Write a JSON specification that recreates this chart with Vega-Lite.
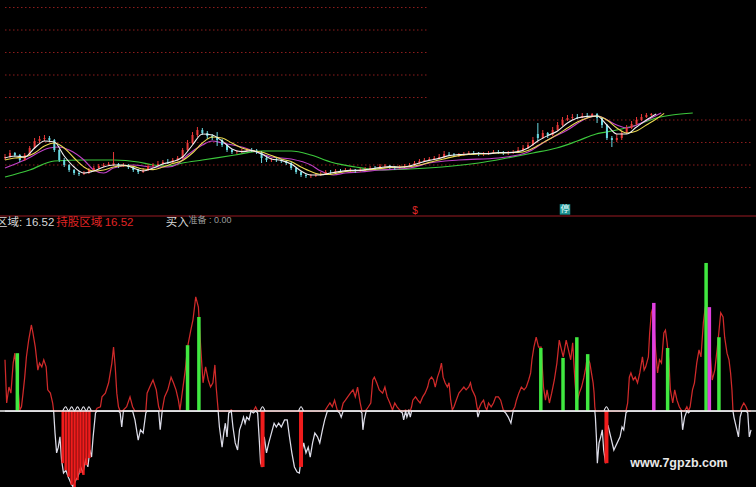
{
  "$schema": "https://vega.github.io/schema/vega-lite/v6.json",
  "width": 756,
  "height": 487,
  "padding": 0,
  "autosize": {"type": "none"},
  "background": "#000000",
  "config": {"view": {"stroke": null}, "axis": {"disable": true}, "legend": {"disable": true}},
  "datasets": {
    "gridTop": [
      {"lv": 19.625, "x0": 0, "x1": 428}, {"lv": 18.5, "x0": 0, "x1": 428}, {"lv": 17.375, "x0": 0, "x1": 428},
      {"lv": 16.25, "x0": 0, "x1": 428}, {"lv": 15.125, "x0": 0, "x1": 428}, {"lv": 14.0, "x0": 0, "x1": 756},
      {"lv": 12.875, "x0": 0, "x1": 756}, {"lv": 11.75, "x0": 0, "x1": 756}, {"lv": 10.625, "x0": 0, "x1": 756}
    ],
    "gridBottom": [{"lv": 3}, {"lv": 2}, {"lv": 1}, {"lv": -1}],
    "candles": [
      {"t":0,"o":12.10,"c":12.15,"h":12.30,"l":12.00},{"t":5,"o":12.15,"c":12.35,"h":12.50,"l":12.10},
      {"t":10,"o":12.35,"c":12.25,"h":12.40,"l":12.15},{"t":15,"o":12.25,"c":12.00,"h":12.30,"l":11.90},
      {"t":20,"o":12.00,"c":12.25,"h":12.35,"l":11.95},{"t":25,"o":12.25,"c":12.60,"h":12.70,"l":12.20},
      {"t":30,"o":12.60,"c":12.95,"h":13.10,"l":12.55},{"t":35,"o":12.95,"c":13.05,"h":13.20,"l":12.85},
      {"t":40,"o":13.05,"c":13.10,"h":13.25,"l":12.95},{"t":45,"o":13.10,"c":13.00,"h":13.20,"l":12.90},
      {"t":50,"o":13.00,"c":12.50,"h":13.05,"l":12.40},{"t":55,"o":12.50,"c":12.00,"h":12.55,"l":11.90},
      {"t":60,"o":12.00,"c":11.75,"h":12.10,"l":11.65},{"t":65,"o":11.75,"c":11.50,"h":11.80,"l":11.40},
      {"t":70,"o":11.50,"c":11.35,"h":11.55,"l":11.25},{"t":75,"o":11.35,"c":11.30,"h":11.45,"l":11.20},
      {"t":80,"o":11.30,"c":11.35,"h":11.45,"l":11.25},{"t":85,"o":11.35,"c":11.50,"h":11.60,"l":11.30},
      {"t":90,"o":11.50,"c":11.60,"h":11.70,"l":11.45},{"t":95,"o":11.60,"c":11.70,"h":11.80,"l":11.55},
      {"t":100,"o":11.70,"c":11.75,"h":11.85,"l":11.65},{"t":105,"o":11.75,"c":11.80,"h":11.90,"l":11.70},
      {"t":110,"o":11.75,"c":11.85,"h":12.40,"l":11.70},{"t":115,"o":11.80,"c":11.70,"h":11.85,"l":11.60},
      {"t":120,"o":11.70,"c":11.75,"h":11.85,"l":11.65},{"t":125,"o":11.75,"c":11.65,"h":11.80,"l":11.55},
      {"t":130,"o":11.65,"c":11.50,"h":11.70,"l":11.40},{"t":135,"o":11.50,"c":11.40,"h":11.55,"l":11.30},
      {"t":140,"o":11.40,"c":11.50,"h":11.60,"l":11.35},{"t":145,"o":11.50,"c":11.70,"h":11.80,"l":11.45},
      {"t":150,"o":11.70,"c":11.75,"h":11.85,"l":11.65},{"t":155,"o":11.75,"c":11.80,"h":11.95,"l":11.70},
      {"t":160,"o":11.80,"c":11.90,"h":12.00,"l":11.75},{"t":165,"o":11.90,"c":11.88,"h":12.05,"l":11.80},
      {"t":170,"o":11.88,"c":12.00,"h":12.10,"l":11.85},{"t":175,"o":12.00,"c":12.10,"h":12.20,"l":11.95},
      {"t":180,"o":12.10,"c":12.50,"h":12.60,"l":12.05},{"t":185,"o":12.50,"c":12.85,"h":13.00,"l":12.45},
      {"t":190,"o":12.85,"c":13.25,"h":13.40,"l":12.80},{"t":195,"o":13.25,"c":13.50,"h":13.65,"l":13.15},
      {"t":200,"o":13.50,"c":13.35,"h":13.60,"l":13.25},{"t":205,"o":13.35,"c":13.20,"h":13.45,"l":13.05},
      {"t":210,"o":13.20,"c":13.10,"h":13.30,"l":13.00},{"t":215,"o":13.10,"c":13.00,"h":13.40,"l":12.70},
      {"t":220,"o":13.00,"c":12.75,"h":13.05,"l":12.65},{"t":225,"o":12.75,"c":12.50,"h":12.80,"l":12.40},
      {"t":230,"o":12.50,"c":12.40,"h":12.55,"l":12.30},{"t":235,"o":12.40,"c":12.42,"h":12.50,"l":12.30},
      {"t":240,"o":12.42,"c":12.45,"h":12.55,"l":12.35},{"t":245,"o":12.45,"c":12.50,"h":12.60,"l":12.40},
      {"t":250,"o":12.50,"c":12.48,"h":12.60,"l":12.40},{"t":255,"o":12.48,"c":12.40,"h":12.55,"l":12.30},
      {"t":260,"o":12.40,"c":12.10,"h":12.45,"l":11.85},{"t":265,"o":12.10,"c":12.00,"h":12.15,"l":11.90},
      {"t":270,"o":12.00,"c":12.02,"h":12.10,"l":11.90},{"t":275,"o":12.02,"c":12.00,"h":12.10,"l":11.90},
      {"t":280,"o":12.00,"c":11.95,"h":12.05,"l":11.85},{"t":285,"o":11.95,"c":11.85,"h":12.00,"l":11.75},
      {"t":290,"o":11.85,"c":11.60,"h":11.90,"l":11.50},{"t":295,"o":11.60,"c":11.40,"h":11.65,"l":11.30},
      {"t":300,"o":11.40,"c":11.25,"h":11.45,"l":11.15},{"t":305,"o":11.25,"c":11.20,"h":11.30,"l":11.10},
      {"t":310,"o":11.20,"c":11.22,"h":11.30,"l":11.10},{"t":315,"o":11.22,"c":11.25,"h":11.35,"l":11.15},
      {"t":320,"o":11.25,"c":11.30,"h":11.40,"l":11.20},{"t":325,"o":11.30,"c":11.40,"h":11.50,"l":11.25},
      {"t":330,"o":11.40,"c":11.38,"h":11.50,"l":11.30},{"t":335,"o":11.38,"c":11.45,"h":11.55,"l":11.35},
      {"t":340,"o":11.45,"c":11.43,"h":11.55,"l":11.35},{"t":345,"o":11.43,"c":11.50,"h":11.60,"l":11.40},
      {"t":350,"o":11.50,"c":11.52,"h":11.60,"l":11.40},{"t":355,"o":11.52,"c":11.45,"h":11.55,"l":11.35},
      {"t":360,"o":11.45,"c":11.50,"h":11.60,"l":11.40},{"t":365,"o":11.50,"c":11.55,"h":11.65,"l":11.45},
      {"t":370,"o":11.55,"c":11.60,"h":11.70,"l":11.50},{"t":375,"o":11.60,"c":11.58,"h":11.70,"l":11.50},
      {"t":380,"o":11.58,"c":11.70,"h":11.80,"l":11.55},{"t":385,"o":11.70,"c":11.72,"h":11.80,"l":11.60},
      {"t":390,"o":11.72,"c":11.65,"h":11.75,"l":11.55},{"t":395,"o":11.65,"c":11.60,"h":11.70,"l":11.50},
      {"t":400,"o":11.60,"c":11.65,"h":11.75,"l":11.55},{"t":405,"o":11.65,"c":11.70,"h":11.80,"l":11.60},
      {"t":410,"o":11.70,"c":11.75,"h":11.85,"l":11.65},{"t":415,"o":11.75,"c":11.85,"h":11.95,"l":11.70},
      {"t":420,"o":11.85,"c":11.95,"h":12.05,"l":11.80},{"t":425,"o":11.95,"c":12.00,"h":12.10,"l":11.90},
      {"t":430,"o":12.00,"c":12.05,"h":12.15,"l":11.95},{"t":435,"o":12.05,"c":12.10,"h":12.20,"l":12.00},
      {"t":440,"o":12.10,"c":12.15,"h":12.30,"l":12.05},{"t":445,"o":12.15,"c":12.30,"h":12.45,"l":12.10},
      {"t":450,"o":12.30,"c":12.28,"h":12.40,"l":12.20},{"t":455,"o":12.28,"c":12.25,"h":12.35,"l":12.15},
      {"t":460,"o":12.25,"c":12.27,"h":12.35,"l":12.15},{"t":465,"o":12.27,"c":12.30,"h":12.40,"l":12.20},
      {"t":470,"o":12.30,"c":12.35,"h":12.45,"l":12.25},{"t":475,"o":12.35,"c":12.33,"h":12.45,"l":12.25},
      {"t":480,"o":12.33,"c":12.30,"h":12.40,"l":12.20},{"t":485,"o":12.30,"c":12.32,"h":12.40,"l":12.20},
      {"t":490,"o":12.32,"c":12.35,"h":12.45,"l":12.25},{"t":495,"o":12.35,"c":12.40,"h":12.50,"l":12.30},
      {"t":500,"o":12.40,"c":12.38,"h":12.50,"l":12.30},{"t":505,"o":12.38,"c":12.35,"h":12.45,"l":12.25},
      {"t":510,"o":12.35,"c":12.37,"h":12.45,"l":12.25},{"t":515,"o":12.37,"c":12.40,"h":12.50,"l":12.30},
      {"t":520,"o":12.40,"c":12.50,"h":12.65,"l":12.35},{"t":525,"o":12.50,"c":12.60,"h":12.75,"l":12.45},
      {"t":530,"o":12.60,"c":12.75,"h":12.90,"l":12.55},{"t":535,"o":12.75,"c":13.00,"h":13.15,"l":12.70},
      {"t":540,"o":13.30,"c":13.10,"h":13.85,"l":12.95},{"t":545,"o":13.10,"c":13.35,"h":13.50,"l":13.05},
      {"t":550,"o":13.35,"c":13.25,"h":13.40,"l":13.10},{"t":555,"o":13.25,"c":13.50,"h":13.65,"l":13.20},
      {"t":560,"o":13.50,"c":13.75,"h":13.90,"l":13.45},{"t":565,"o":13.75,"c":14.00,"h":14.15,"l":13.70},
      {"t":570,"o":14.00,"c":14.10,"h":14.25,"l":13.95},{"t":575,"o":14.10,"c":14.15,"h":14.30,"l":14.00},
      {"t":580,"o":14.15,"c":14.12,"h":14.30,"l":14.05},{"t":585,"o":14.12,"c":14.20,"h":14.35,"l":14.08},
      {"t":590,"o":14.20,"c":14.18,"h":14.35,"l":14.10},{"t":595,"o":14.18,"c":14.30,"h":14.35,"l":14.15},
      {"t":600,"o":14.30,"c":14.10,"h":14.35,"l":13.85},{"t":605,"o":14.10,"c":13.75,"h":14.15,"l":13.60},
      {"t":610,"o":13.75,"c":13.10,"h":13.80,"l":13.00},{"t":615,"o":13.10,"c":13.00,"h":13.20,"l":12.65},
      {"t":620,"o":13.00,"c":13.10,"h":13.30,"l":12.90},{"t":625,"o":13.10,"c":13.35,"h":13.45,"l":13.00},
      {"t":630,"o":13.35,"c":13.60,"h":13.75,"l":13.30},{"t":635,"o":13.60,"c":13.80,"h":13.95,"l":13.55},
      {"t":640,"o":13.80,"c":14.00,"h":14.15,"l":13.75},{"t":645,"o":14.00,"c":14.15,"h":14.30,"l":13.95},
      {"t":650,"o":14.15,"c":14.25,"h":14.35,"l":14.10},{"t":655,"o":14.25,"c":14.30,"h":14.35,"l":14.20}
    ],
    "ma5": [
      {"t":0,"p":12.10},{"t":10,"p":12.20},{"t":20,"p":12.15},{"t":30,"p":12.60},{"t":40,"p":12.95},{"t":50,"p":12.90},
      {"t":60,"p":12.20},{"t":70,"p":11.65},{"t":80,"p":11.35},{"t":90,"p":11.45},{"t":100,"p":11.65},{"t":110,"p":11.75},
      {"t":120,"p":11.75},{"t":130,"p":11.60},{"t":140,"p":11.45},{"t":150,"p":11.60},{"t":160,"p":11.80},{"t":170,"p":11.92},
      {"t":180,"p":12.15},{"t":190,"p":12.75},{"t":200,"p":13.30},{"t":210,"p":13.25},{"t":220,"p":12.95},{"t":230,"p":12.55},
      {"t":240,"p":12.42},{"t":250,"p":12.47},{"t":260,"p":12.30},{"t":270,"p":12.05},{"t":280,"p":11.98},{"t":290,"p":11.80},
      {"t":300,"p":11.45},{"t":310,"p":11.25},{"t":320,"p":11.25},{"t":330,"p":11.35},{"t":340,"p":11.43},{"t":350,"p":11.48},
      {"t":360,"p":11.48},{"t":370,"p":11.55},{"t":380,"p":11.62},{"t":390,"p":11.67},{"t":400,"p":11.64},{"t":410,"p":11.70},
      {"t":420,"p":11.85},{"t":430,"p":11.98},{"t":440,"p":12.08},{"t":450,"p":12.22},{"t":460,"p":12.27},{"t":470,"p":12.30},
      {"t":480,"p":12.33},{"t":490,"p":12.32},{"t":500,"p":12.37},{"t":510,"p":12.37},{"t":520,"p":12.42},{"t":530,"p":12.60},
      {"t":540,"p":12.95},{"t":550,"p":13.22},{"t":560,"p":13.45},{"t":570,"p":13.85},{"t":580,"p":14.10},{"t":590,"p":14.18},
      {"t":600,"p":14.20},{"t":610,"p":13.75},{"t":620,"p":13.30},{"t":630,"p":13.30},{"t":640,"p":13.65},{"t":650,"p":14.00},
      {"t":660,"p":14.30}
    ],
    "ma10": [
      {"t":0,"p":12.00},{"t":10,"p":12.10},{"t":20,"p":12.15},{"t":30,"p":12.35},{"t":40,"p":12.70},{"t":50,"p":12.85},
      {"t":60,"p":12.60},{"t":70,"p":12.10},{"t":80,"p":11.65},{"t":90,"p":11.45},{"t":100,"p":11.50},{"t":110,"p":11.65},
      {"t":120,"p":11.72},{"t":130,"p":11.68},{"t":140,"p":11.55},{"t":150,"p":11.52},{"t":160,"p":11.65},{"t":170,"p":11.82},
      {"t":180,"p":11.98},{"t":190,"p":12.35},{"t":200,"p":12.85},{"t":210,"p":13.15},{"t":220,"p":13.10},{"t":230,"p":12.85},
      {"t":240,"p":12.60},{"t":250,"p":12.47},{"t":260,"p":12.40},{"t":270,"p":12.22},{"t":280,"p":12.05},{"t":290,"p":11.92},
      {"t":300,"p":11.65},{"t":310,"p":11.42},{"t":320,"p":11.28},{"t":330,"p":11.28},{"t":340,"p":11.38},{"t":350,"p":11.45},
      {"t":360,"p":11.48},{"t":370,"p":11.52},{"t":380,"p":11.57},{"t":390,"p":11.63},{"t":400,"p":11.65},{"t":410,"p":11.67},
      {"t":420,"p":11.75},{"t":430,"p":11.88},{"t":440,"p":12.00},{"t":450,"p":12.12},{"t":460,"p":12.22},{"t":470,"p":12.28},
      {"t":480,"p":12.30},{"t":490,"p":12.32},{"t":500,"p":12.35},{"t":510,"p":12.37},{"t":520,"p":12.38},{"t":530,"p":12.48},
      {"t":540,"p":12.72},{"t":550,"p":13.00},{"t":560,"p":13.28},{"t":570,"p":13.60},{"t":580,"p":13.90},{"t":590,"p":14.10},
      {"t":600,"p":14.20},{"t":610,"p":14.00},{"t":620,"p":13.60},{"t":630,"p":13.35},{"t":640,"p":13.45},{"t":650,"p":13.75},
      {"t":660,"p":14.05},{"t":668,"p":14.33}
    ],
    "ma30": [
      {"t":0,"p":11.60},{"t":20,"p":12.00},{"t":45,"p":12.60},{"t":55,"p":12.65},{"t":65,"p":12.50},{"t":80,"p":12.00},
      {"t":90,"p":11.50},{"t":100,"p":11.35},{"t":110,"p":11.60},{"t":130,"p":11.75},{"t":150,"p":11.65},{"t":165,"p":11.65},
      {"t":175,"p":11.80},{"t":185,"p":12.25},{"t":200,"p":12.75},{"t":210,"p":12.95},{"t":220,"p":12.85},{"t":240,"p":12.65},
      {"t":255,"p":12.40},{"t":270,"p":12.15},{"t":290,"p":12.05},{"t":310,"p":11.75},{"t":320,"p":11.45},{"t":333,"p":11.25},
      {"t":345,"p":11.35},{"t":360,"p":11.40},{"t":380,"p":11.50},{"t":410,"p":11.60},{"t":430,"p":11.85},{"t":460,"p":12.00},
      {"t":500,"p":12.10},{"t":530,"p":12.40},{"t":550,"p":13.00},{"t":570,"p":13.50},{"t":590,"p":14.10},{"t":600,"p":14.20},
      {"t":620,"p":13.75},{"t":630,"p":13.60},{"t":640,"p":13.75},{"t":655,"p":14.10},{"t":665,"p":14.35}
    ],
    "ma60": [
      {"t":0,"p":11.15},{"t":25,"p":11.50},{"t":50,"p":11.95},{"t":80,"p":12.00},{"t":110,"p":12.00},{"t":135,"p":11.90},
      {"t":150,"p":11.75},{"t":165,"p":11.70},{"t":180,"p":11.85},{"t":200,"p":12.00},{"t":233,"p":12.25},{"t":260,"p":12.45},
      {"t":290,"p":12.45},{"t":310,"p":12.25},{"t":330,"p":11.90},{"t":355,"p":11.65},{"t":380,"p":11.50},{"t":410,"p":11.55},
      {"t":443,"p":11.65},{"t":480,"p":11.85},{"t":509,"p":12.10},{"t":535,"p":12.35},{"t":559,"p":12.60},{"t":580,"p":12.95},
      {"t":599,"p":13.30},{"t":620,"p":13.50},{"t":640,"p":13.75},{"t":660,"p":14.10},{"t":676,"p":14.25},{"t":697,"p":14.35}
    ],
    "osc": [
      {"t":0,"v":1.09},{"t":1.7,"v":0.17},{"t":4,"v":0.51},{"t":6,"v":0.38},{"t":8.3,"v":1.02},{"t":10,"v":1.23},{"t":13.3,"v":0.45},{"t":15,"v":0.02},{"t":16.7,"v":0.09},{"t":18.3,"v":0.38},
      {"t":20,"v":0.72},{"t":21.7,"v":1.15},{"t":24,"v":1.51},{"t":26.7,"v":1.83},{"t":28.3,"v":1.66},{"t":30.7,"v":1.36},{"t":33.3,"v":0.87},{"t":35,"v":1.02},{"t":37.3,"v":0.94},{"t":39.3,"v":1.09},
      {"t":41.7,"v":0.94},{"t":43.3,"v":0.45},{"t":46,"v":0.38},{"t":48.3,"v":0.17},{"t":49.3,"v":0},{"t":50.7,"v":-0.47},{"t":52.3,"v":-0.89},{"t":54,"v":-0.77},{"t":55.7,"v":-0.55},{"t":57.3,"v":-1.04},
      {"t":59.3,"v":-1.32},{"t":61.7,"v":-1.26},{"t":64,"v":-1.40},{"t":66.7,"v":-1.53},{"t":69,"v":-1.62},{"t":71.7,"v":-1.47},{"t":74,"v":-1.40},{"t":76.7,"v":-1.19},{"t":79,"v":-1.32},{"t":81.7,"v":-1.04},
      {"t":84,"v":-1.19},{"t":86,"v":-0.83},{"t":87.7,"v":-0.98},{"t":89.3,"v":-0.55},{"t":91.7,"v":-0.04},{"t":93.3,"v":0.06},{"t":96.7,"v":0.09},{"t":98.3,"v":0.30},{"t":101.7,"v":0.38},{"t":105,"v":0.60},
      {"t":108.3,"v":1.02},{"t":110,"v":1.36},{"t":111.7,"v":0.94},{"t":113.3,"v":0.38},{"t":115,"v":0.09},{"t":116.7,"v":-0.04},{"t":118.3,"v":-0.34},{"t":120,"v":0.02},{"t":123.3,"v":0.09},{"t":126.7,"v":0.30},
      {"t":129.3,"v":0.09},{"t":131.7,"v":-0.19},{"t":135,"v":-0.62},{"t":137.3,"v":-0.40},{"t":140,"v":-0.47},{"t":142.7,"v":-0.04},{"t":144,"v":0.38},{"t":146.7,"v":0.51},{"t":150,"v":0.66},{"t":153.3,"v":0.45},
      {"t":155.7,"v":0.09},{"t":157.3,"v":-0.40},{"t":159.3,"v":0.02},{"t":161.7,"v":0.30},{"t":165,"v":0.45},{"t":168.3,"v":0.72},{"t":170.7,"v":0.60},{"t":173.3,"v":0.45},{"t":175.7,"v":0.23},{"t":177.3,"v":0.02},
      {"t":180,"v":0.45},{"t":182.7,"v":0.87},{"t":185,"v":1.36},{"t":188.3,"v":1.72},{"t":190.5,"v":1.94},{"t":193.3,"v":2.43},{"t":196,"v":2.21},{"t":198.3,"v":1.36},{"t":200.7,"v":0.60},{"t":203.3,"v":0.94},
      {"t":206,"v":0.66},{"t":208.3,"v":0.51},{"t":210.7,"v":0.60},{"t":212.7,"v":0.98},{"t":214,"v":0.51},{"t":216,"v":0.02},{"t":217.3,"v":-0.34},{"t":220,"v":-0.77},{"t":221.7,"v":-0.47},{"t":223.3,"v":-0.26},
      {"t":225,"v":-0.55},{"t":226.7,"v":-0.04},{"t":229.3,"v":0.02},{"t":231,"v":-0.34},{"t":233.3,"v":-0.68},{"t":235.7,"v":-0.83},{"t":237.7,"v":-0.40},{"t":240,"v":-0.26},{"t":241.7,"v":-0.13},{"t":243.3,"v":-0.26},
      {"t":245,"v":-0.13},{"t":247.3,"v":-0.19},{"t":249.3,"v":0.02},{"t":251.7,"v":-0.04},{"t":254,"v":0.09},{"t":256,"v":-0.04},{"t":257.7,"v":-0.62},{"t":259,"v":-1.11},{"t":260.7,"v":-1.19},{"t":262.7,"v":-0.55},
      {"t":265,"v":-0.89},{"t":267.3,"v":-0.68},{"t":270,"v":-0.47},{"t":272.7,"v":-0.26},{"t":275,"v":-0.34},{"t":277.3,"v":-0.26},{"t":280,"v":-0.34},{"t":283.3,"v":-0.19},{"t":286,"v":-0.19},{"t":288.3,"v":-0.55},
      {"t":290.7,"v":-0.89},{"t":293.3,"v":-1.19},{"t":296,"v":-1.30},{"t":298.3,"v":-1.32},{"t":300.7,"v":-0.89},{"t":302.7,"v":-0.68},{"t":305,"v":-0.89},{"t":307.3,"v":-0.77},{"t":309.3,"v":-0.98},{"t":311.7,"v":-0.68},
      {"t":314,"v":-0.47},{"t":316.7,"v":-0.55},{"t":319,"v":-0.68},{"t":321.7,"v":-0.40},{"t":324,"v":-0.19},{"t":326.7,"v":0.09},{"t":329.3,"v":0.17},{"t":331.7,"v":0.09},{"t":334,"v":0.23},{"t":336.7,"v":0.02},
      {"t":339,"v":-0.04},{"t":340.7,"v":-0.13},{"t":342.7,"v":0.17},{"t":345,"v":0.23},{"t":347.3,"v":0.30},{"t":350,"v":0.38},{"t":352.7,"v":0.45},{"t":355,"v":0.30},{"t":357.3,"v":0.51},{"t":360,"v":0.17},
      {"t":361.7,"v":-0.04},{"t":362.7,"v":-0.40},{"t":364,"v":-0.19},{"t":366,"v":0.02},{"t":368.3,"v":0.09},{"t":370.7,"v":0.17},{"t":372.7,"v":0.66},{"t":374.3,"v":0.72},{"t":376.7,"v":0.60},{"t":379.3,"v":0.45},
      {"t":382.7,"v":0.38},{"t":385,"v":0.51},{"t":387.3,"v":0.30},{"t":390,"v":0.17},{"t":392.7,"v":0.02},{"t":395,"v":0.17},{"t":397.3,"v":0.09},{"t":400,"v":0.02},{"t":402.7,"v":-0.04},{"t":404,"v":-0.19},
      {"t":406,"v":0.02},{"t":407.3,"v":-0.13},{"t":409.3,"v":0.02},{"t":410.7,"v":-0.13},{"t":412,"v":0.09},{"t":413.3,"v":0.23},{"t":416,"v":0.30},{"t":418.3,"v":0.23},{"t":420.7,"v":0.17},{"t":423.3,"v":0.30},
      {"t":425.7,"v":0.38},{"t":428.3,"v":0.51},{"t":430,"v":0.66},{"t":432.3,"v":0.72},{"t":434.3,"v":0.66},{"t":436,"v":0.51},{"t":438.3,"v":0.72},{"t":440.7,"v":0.87},{"t":442.3,"v":1.02},{"t":444,"v":0.72},
      {"t":446,"v":0.60},{"t":448.3,"v":0.51},{"t":450,"v":0.60},{"t":451.7,"v":0.23},{"t":453.3,"v":0.02},{"t":455,"v":0.09},{"t":457.3,"v":0.23},{"t":460,"v":0.38},{"t":462.7,"v":0.45},{"t":465,"v":0.51},
      {"t":467.3,"v":0.45},{"t":470,"v":0.51},{"t":471.7,"v":0.60},{"t":473.3,"v":0.45},{"t":475,"v":0.38},{"t":476.7,"v":0.30},{"t":478.3,"v":0.09},{"t":479.3,"v":-0.13},{"t":481,"v":0.09},{"t":482.7,"v":0.17},
      {"t":485,"v":0.23},{"t":486.7,"v":0.09},{"t":488.3,"v":0.02},{"t":490,"v":0.17},{"t":492.7,"v":0.09},{"t":495,"v":0.17},{"t":497.3,"v":0.30},{"t":500,"v":0.30},{"t":502.3,"v":0.23},{"t":505,"v":0.02},
      {"t":507.3,"v":-0.04},{"t":510,"v":-0.13},{"t":512.7,"v":-0.26},{"t":515,"v":0.02},{"t":516.7,"v":0.09},{"t":518.3,"v":0.23},{"t":520.7,"v":0.38},{"t":523.3,"v":0.51},{"t":526,"v":0.45},{"t":528.3,"v":0.51},
      {"t":530.7,"v":0.66},{"t":532.7,"v":0.81},{"t":534,"v":1.09},{"t":536,"v":1.36},{"t":538.3,"v":1.57},{"t":540.7,"v":1.36},{"t":543.3,"v":1.36},{"t":545.7,"v":0.51},{"t":547.7,"v":0.23},{"t":549.3,"v":0.45},
      {"t":551.7,"v":0.17},{"t":554,"v":0.38},{"t":556.7,"v":0.66},{"t":559.3,"v":1.02},{"t":561.7,"v":1.51},{"t":563.3,"v":1.36},{"t":565.7,"v":1.15},{"t":568.7,"v":1.51},{"t":571,"v":1.30},{"t":573.3,"v":1.09},
      {"t":575.3,"v":1.45},{"t":577.7,"v":0.60},{"t":579.3,"v":0.17},{"t":582,"v":0.38},{"t":584.3,"v":0.51},{"t":586.7,"v":0.72},{"t":588.7,"v":0.94},{"t":590,"v":1.15},{"t":592.7,"v":1.02},{"t":594.3,"v":0.81},
      {"t":596,"v":0.60},{"t":597,"v":0.38},{"t":597.7,"v":0.09},{"t":598.3,"v":-0.13},{"t":599.3,"v":-0.55},{"t":600.3,"v":-1.11},{"t":602,"v":-0.68},{"t":603.7,"v":-0.55},{"t":605.3,"v":-0.40},{"t":606.7,"v":-0.83},
      {"t":608.7,"v":-1.11},{"t":609.3,"v":-0.47},{"t":611,"v":-0.30},{"t":617,"v":-0.83},{"t":623.3,"v":-0.55},{"t":625.3,"v":-0.34},{"t":627,"v":-0.40},{"t":629.3,"v":-0.04},{"t":631,"v":0.17},{"t":632.7,"v":0.72},
      {"t":634.3,"v":0.81},{"t":636.7,"v":0.66},{"t":638.7,"v":0.72},{"t":641,"v":0.60},{"t":643.3,"v":0.81},{"t":646,"v":1.15},{"t":647.7,"v":0.87},{"t":649.3,"v":0.94},{"t":652,"v":1.15},{"t":653.3,"v":1.66},
      {"t":655,"v":2.09},{"t":656.7,"v":2.21},{"t":659.3,"v":1.30},{"t":661.3,"v":0.81},{"t":663.3,"v":1.09},{"t":665.3,"v":1.02},{"t":667.7,"v":1.66},{"t":669.3,"v":1.72},{"t":671,"v":1.45},{"t":672.7,"v":1.09},
      {"t":674.3,"v":0.45},{"t":676.7,"v":0.17},{"t":678.7,"v":0.45},{"t":681,"v":0.23},{"t":683.3,"v":0.09},{"t":685.3,"v":0.02},{"t":686.7,"v":-0.40},{"t":688.7,"v":-0.13},{"t":691,"v":0.09},{"t":692.7,"v":-0.04},
      {"t":694.3,"v":0.09},{"t":696.7,"v":0.45},{"t":698.7,"v":0.60},{"t":701,"v":1.02},{"t":703.3,"v":1.30},{"t":705.3,"v":1.15},{"t":707.7,"v":1.87},{"t":709.3,"v":2.15},{"t":711,"v":2.36},{"t":714.3,"v":1.30},
      {"t":716.7,"v":0.66},{"t":719.3,"v":0.87},{"t":722.7,"v":1.51},{"t":725.3,"v":2.09},{"t":727.7,"v":2.00},{"t":729.3,"v":1.57},{"t":731.7,"v":1.23},{"t":733.7,"v":1.09},{"t":735.3,"v":0.81},{"t":736.7,"v":0.45},
      {"t":737.7,"v":0.02},{"t":738.7,"v":-0.13},{"t":741,"v":-0.34},{"t":743.3,"v":-0.55},{"t":745,"v":-0.13},{"t":746.7,"v":0.09},{"t":748.7,"v":0.17},{"t":751,"v":0.09},{"t":752.7,"v":-0.04},{"t":754.3,"v":-0.55},
      {"t":756,"v":-0.40}
    ],
    "bars": [
      {"t":12.5,"v":1.23,"k":"buy"},{"t":185,"v":1.40,"k":"buy"},{"t":196.5,"v":2.00,"k":"buy"},{"t":543,"v":1.34,"k":"buy"},
      {"t":565.5,"v":1.13,"k":"buy"},{"t":579.5,"v":1.57,"k":"buy"},{"t":590.5,"v":1.21,"k":"buy"},{"t":671.5,"v":1.34,"k":"buy"},
      {"t":710.5,"v":3.15,"k":"buy"},{"t":723.5,"v":1.57,"k":"buy"},
      {"t":657.5,"v":2.30,"k":"hold"},{"t":713.8,"v":2.21,"k":"hold"},
      {"t":261,"v":-1.19,"k":"sell"},{"t":300,"v":-1.19,"k":"sell"},{"t":609.5,"v":-1.11,"k":"sell"},
      {"t":58.5,"v":-1.11,"k":"zone"},{"t":61.5,"v":-1.26,"k":"zone"},{"t":64.5,"v":-1.40,"k":"zone"},{"t":67.5,"v":-1.57,"k":"zone"},
      {"t":70.5,"v":-1.62,"k":"zone"},{"t":73.5,"v":-1.47,"k":"zone"},{"t":76.5,"v":-1.32,"k":"zone"},{"t":79.5,"v":-1.36,"k":"zone"},
      {"t":82.5,"v":-1.15,"k":"zone"},{"t":85.5,"v":-1.00,"k":"zone"}
    ],
    "caps": [
      {"t":58.5,"v":0,"g":"a"},{"t":61.5,"v":0.09,"g":"a"},{"t":64.5,"v":0,"g":"a"},{"t":67.5,"v":0.09,"g":"a"},{"t":70.5,"v":0,"g":"a"},
      {"t":73.5,"v":0.09,"g":"a"},{"t":76.5,"v":0,"g":"a"},{"t":79.5,"v":0.09,"g":"a"},{"t":82.5,"v":0,"g":"a"},{"t":85,"v":0.09,"g":"a"},
      {"t":87.5,"v":0,"g":"a"},
      {"t":258.5,"v":0,"g":"b"},{"t":261,"v":0.09,"g":"b"},{"t":263.5,"v":0,"g":"b"},
      {"t":297.5,"v":0,"g":"c"},{"t":300,"v":0.09,"g":"c"},{"t":302.5,"v":0,"g":"c"},
      {"t":607,"v":0,"g":"d"},{"t":609.5,"v":0.09,"g":"d"},{"t":612,"v":0,"g":"d"}
    ]
  },
  "encoding": {
    "x": {"field": "t", "type": "quantitative", "scale": {"domain": [0, 756], "nice": false, "zero": false}}
  },
  "resolve": {"scale": {"y": "independent"}},
  "layer": [
    {
      "data": {"name": "gridTop"},
      "mark": {"type": "rule", "color": "#8c1c1c", "strokeDash": [1.5, 2.5], "strokeWidth": 1},
      "encoding": {
        "x": {"field": "x0", "type": "quantitative", "scale": {"domain": [0, 756], "nice": false, "zero": false}},
        "x2": {"field": "x1"},
        "y": {"field": "lv", "type": "quantitative", "scale": {"domain": [9.2, 20], "range": [216, 0], "nice": false, "zero": false}}
      }
    },
    {
      "data": {"name": "gridBottom"},
      "mark": {"type": "rule", "color": "#8c1c1c", "strokeDash": [1.5, 2.5], "strokeWidth": 1},
      "encoding": {
        "y": {"field": "lv", "type": "quantitative", "scale": {"domain": [-1.617, 4.149], "range": [487, 216], "nice": false, "zero": false}}
      }
    },
    {
      "data": {"name": "ma60"},
      "mark": {"type": "line", "color": "#3cc83c", "strokeWidth": 1.2, "interpolate": "monotone"},
      "encoding": {"y": {"field": "p", "type": "quantitative", "scale": {"domain": [9.2, 20], "range": [216, 0], "nice": false, "zero": false}}}
    },
    {
      "data": {"name": "ma30"},
      "mark": {"type": "line", "color": "#c040c8", "strokeWidth": 1.2, "interpolate": "monotone"},
      "encoding": {"y": {"field": "p", "type": "quantitative", "scale": {"domain": [9.2, 20], "range": [216, 0], "nice": false, "zero": false}}}
    },
    {
      "data": {"name": "candles"},
      "mark": {"type": "rule", "strokeWidth": 1},
      "encoding": {
        "y": {"field": "l", "type": "quantitative", "scale": {"domain": [9.2, 20], "range": [216, 0], "nice": false, "zero": false}},
        "y2": {"field": "h"},
        "color": {"condition": {"test": "datum.c >= datum.o", "value": "#e83838"}, "value": "#6ad8e0"}
      }
    },
    {
      "data": {"name": "candles"},
      "mark": {"type": "bar", "width": 2},
      "encoding": {
        "y": {"field": "o", "type": "quantitative", "scale": {"domain": [9.2, 20], "range": [216, 0], "nice": false, "zero": false}},
        "y2": {"field": "c"},
        "color": {"condition": {"test": "datum.c >= datum.o", "value": "#e83838"}, "value": "#6ad8e0"}
      }
    },
    {
      "data": {"name": "ma10"},
      "mark": {"type": "line", "color": "#e8d850", "strokeWidth": 1.1, "interpolate": "monotone"},
      "encoding": {"y": {"field": "p", "type": "quantitative", "scale": {"domain": [9.2, 20], "range": [216, 0], "nice": false, "zero": false}}}
    },
    {
      "data": {"name": "ma5"},
      "mark": {"type": "line", "color": "#f0f0f0", "strokeWidth": 1.1, "interpolate": "monotone"},
      "encoding": {"y": {"field": "p", "type": "quantitative", "scale": {"domain": [9.2, 20], "range": [216, 0], "nice": false, "zero": false}}}
    },
    {
      "data": {"values": [{"t": 415.5, "p": 9.45, "s": "$"}]},
      "mark": {"type": "text", "color": "#e02828", "fontSize": 10, "font": "Liberation Sans", "baseline": "middle", "align": "center"},
      "encoding": {
        "y": {"field": "p", "type": "quantitative", "scale": {"domain": [9.2, 20], "range": [216, 0], "nice": false, "zero": false}},
        "text": {"field": "s"}
      }
    },
    {
      "data": {"values": [{"t": 567.5, "p": 9.53}]},
      "mark": {"type": "point", "shape": "square", "filled": true, "size": 110, "color": "#1f9494", "opacity": 1},
      "encoding": {
        "y": {"field": "p", "type": "quantitative", "scale": {"domain": [9.2, 20], "range": [216, 0], "nice": false, "zero": false}}
      }
    },
    {
      "data": {"values": [{"t": 567.5, "p": 9.53, "s": "停"}]},
      "mark": {"type": "text", "color": "#e8ffff", "fontSize": 9, "font": "Noto Sans CJK SC", "baseline": "middle", "align": "center"},
      "encoding": {
        "y": {"field": "p", "type": "quantitative", "scale": {"domain": [9.2, 20], "range": [216, 0], "nice": false, "zero": false}},
        "text": {"field": "s"}
      }
    },
    {
      "data": {"values": [{"p": 9.2}]},
      "mark": {"type": "rule", "color": "#9a1a22", "strokeWidth": 1.2},
      "encoding": {
        "x": {"value": 0}, "x2": {"value": 756},
        "y": {"field": "p", "type": "quantitative", "scale": {"domain": [9.2, 20], "range": [216, 0], "nice": false, "zero": false}}
      }
    },
    {
      "data": {"name": "osc"},
      "mark": {"type": "line", "color": "#d02a2a", "strokeWidth": 1.25},
      "encoding": {"y": {"field": "v", "type": "quantitative", "scale": {"domain": [0, 4.149], "range": [411, 216], "clamp": true, "nice": false, "zero": false}}}
    },
    {
      "data": {"name": "osc"},
      "mark": {"type": "line", "color": "#dcdce8", "strokeWidth": 1.25},
      "encoding": {"y": {"field": "v", "type": "quantitative", "scale": {"domain": [-1.617, 0], "range": [487, 411], "clamp": true, "nice": false, "zero": false}}}
    },
    {
      "data": {"name": "bars"},
      "transform": [{"filter": "datum.k === 'buy'"}],
      "mark": {"type": "bar", "width": 3.5, "color": "#40e840"},
      "encoding": {
        "y": {"field": "v", "type": "quantitative", "scale": {"domain": [-1.617, 4.149], "range": [487, 216], "nice": false, "zero": false}},
        "y2": {"datum": 0}
      }
    },
    {
      "data": {"name": "bars"},
      "transform": [{"filter": "datum.k === 'hold'"}],
      "mark": {"type": "bar", "width": 3.5, "color": "#e040e0"},
      "encoding": {
        "y": {"field": "v", "type": "quantitative", "scale": {"domain": [-1.617, 4.149], "range": [487, 216], "nice": false, "zero": false}},
        "y2": {"datum": 0}
      }
    },
    {
      "data": {"name": "bars"},
      "transform": [{"filter": "datum.k === 'sell'"}],
      "mark": {"type": "bar", "width": 4, "color": "#f01c1c"},
      "encoding": {
        "y": {"field": "v", "type": "quantitative", "scale": {"domain": [-1.617, 4.149], "range": [487, 216], "nice": false, "zero": false}},
        "y2": {"datum": 0}
      }
    },
    {
      "data": {"name": "bars"},
      "transform": [{"filter": "datum.k === 'zone'"}],
      "mark": {"type": "bar", "width": 2.5, "color": "#f01c1c"},
      "encoding": {
        "y": {"field": "v", "type": "quantitative", "scale": {"domain": [-1.617, 4.149], "range": [487, 216], "nice": false, "zero": false}},
        "y2": {"datum": 0}
      }
    },
    {
      "data": {"values": [{"z": 0}]},
      "mark": {"type": "rule", "color": "#f4f4f4", "strokeWidth": 1.6},
      "encoding": {
        "x": {"value": 0}, "x2": {"value": 756},
        "y": {"field": "z", "type": "quantitative", "scale": {"domain": [-1.617, 4.149], "range": [487, 216], "nice": false, "zero": false}}
      }
    },
    {
      "data": {"name": "caps"},
      "mark": {"type": "line", "color": "#e8e8f0", "strokeWidth": 1.1, "interpolate": "monotone"},
      "encoding": {
        "y": {"field": "v", "type": "quantitative", "scale": {"domain": [-1.617, 4.149], "range": [487, 216], "nice": false, "zero": false}},
        "detail": {"field": "g"}
      }
    },
    {
      "data": {"values": [{"t": -9, "v": 4.0, "s": "区域: 16.52"}, {"t": 163, "v": 4.0, "s": "买入"}]},
      "mark": {"type": "text", "color": "#d8d8d8", "fontSize": 11.5, "font": "Liberation Sans, Noto Sans CJK SC", "baseline": "middle", "align": "left"},
      "encoding": {
        "y": {"field": "v", "type": "quantitative", "scale": {"domain": [-1.617, 4.149], "range": [487, 216], "nice": false, "zero": false}},
        "text": {"field": "s"}
      }
    },
    {
      "data": {"values": [{"t": 52, "v": 4.0, "s": "持股区域"}, {"t": 101, "v": 4.0, "s": "16.52"}]},
      "mark": {"type": "text", "color": "#e02424", "fontSize": 11.5, "font": "Liberation Sans, Noto Sans CJK SC", "baseline": "middle", "align": "left"},
      "encoding": {
        "y": {"field": "v", "type": "quantitative", "scale": {"domain": [-1.617, 4.149], "range": [487, 216], "nice": false, "zero": false}},
        "text": {"field": "s"}
      }
    },
    {
      "data": {"values": [{"t": 186, "v": 4.06, "s": "准备 : 0.00"}]},
      "mark": {"type": "text", "color": "#9a9a9a", "fontSize": 9, "font": "Liberation Sans, Noto Sans CJK SC", "baseline": "middle", "align": "left"},
      "encoding": {
        "y": {"field": "v", "type": "quantitative", "scale": {"domain": [-1.617, 4.149], "range": [487, 216], "nice": false, "zero": false}},
        "text": {"field": "s"}
      }
    },
    {
      "data": {"values": [{"t": 683, "v": -1.106, "s": "www.7gpzb.com"}]},
      "mark": {"type": "text", "color": "#e8e8e8", "fontSize": 12.5, "fontWeight": "bold", "font": "Liberation Sans", "baseline": "middle", "align": "center"},
      "encoding": {
        "y": {"field": "v", "type": "quantitative", "scale": {"domain": [-1.617, 4.149], "range": [487, 216], "nice": false, "zero": false}},
        "text": {"field": "s"}
      }
    }
  ]
}
